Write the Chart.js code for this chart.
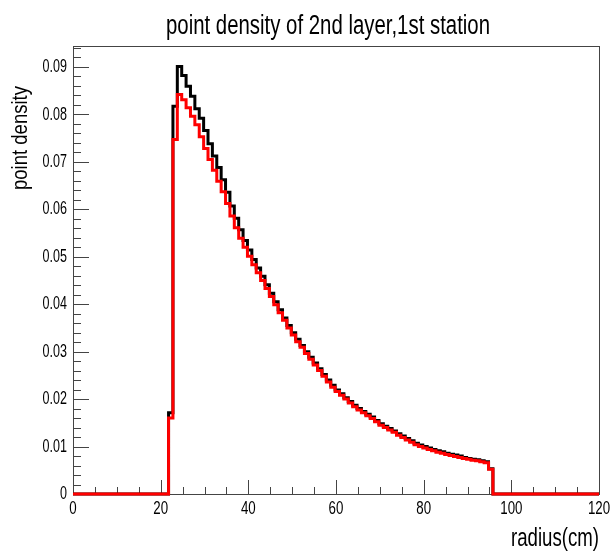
<!DOCTYPE html>
<html><head><meta charset="utf-8">
<script src="https://cdn.jsdelivr.net/npm/chart.js@4/dist/chart.umd.min.js"></script>
<style>html,body{margin:0;padding:0;background:#fff}#wrap{width:610px;height:554px;position:relative}</style>
</head><body><div id="wrap"><canvas id="c" width="610" height="554"></canvas></div>
<script>
const chartTitle = 'point density of 2nd layer,1st station';
const xTitle = 'radius(cm)';
const yTitle = 'point density';
const xRange = [0, 120];
const yRange = [0, 0.0944];
const binStart = 21.8;
const binWidth = 1;
const xTickValues = [0, 20, 40, 60, 80, 100, 120];
const xTickLabels = ['0', '20', '40', '60', '80', '100', '120'];
const xMinorStep = 5;
const yTickValues = [0, 0.01, 0.02, 0.03, 0.04, 0.05, 0.06, 0.07, 0.08, 0.09];
const yTickLabels = ['0', '0.01', '0.02', '0.03', '0.04', '0.05', '0.06', '0.07', '0.08', '0.09'];
const yMinorStep = 0.002;

const blackValues = [
  0.0171, 0.0817, 0.0901, 0.0882, 0.0859, 0.0838, 0.0812, 0.0792, 0.0766, 0.0738,
  0.0712, 0.0688, 0.0662, 0.0636, 0.0607, 0.0581, 0.0557, 0.0534, 0.0514, 0.0494,
  0.0476, 0.0459, 0.0441, 0.0423, 0.0405, 0.0388, 0.0371, 0.0355, 0.0340, 0.0326,
  0.0313, 0.0300, 0.0288, 0.0276, 0.0264, 0.0252, 0.0240, 0.0229, 0.0219, 0.0211,
  0.0203, 0.0195, 0.0187, 0.0180, 0.0174, 0.0168, 0.0162, 0.0155, 0.0148, 0.0143,
  0.0138, 0.0133, 0.0127, 0.0122, 0.0117, 0.0112, 0.0107, 0.0103, 0.0100, 0.0097,
  0.0094, 0.0091, 0.0089, 0.0086, 0.0084, 0.0082, 0.0080, 0.0077, 0.0075, 0.0073,
  0.0072, 0.0070, 0.0068, 0.0053
];
const redValues = [
  0.0160, 0.0747, 0.0842, 0.0831, 0.0814, 0.0796, 0.0778, 0.0753, 0.0728, 0.0705,
  0.0682, 0.0659, 0.0637, 0.0612, 0.0586, 0.0561, 0.0539, 0.0520, 0.0501, 0.0483,
  0.0466, 0.0450, 0.0433, 0.0416, 0.0399, 0.0382, 0.0366, 0.0350, 0.0335, 0.0321,
  0.0309, 0.0296, 0.0284, 0.0272, 0.0260, 0.0248, 0.0236, 0.0225, 0.0216, 0.0208,
  0.0200, 0.0192, 0.0184, 0.0177, 0.0171, 0.0165, 0.0159, 0.0152, 0.0145, 0.0140,
  0.0135, 0.0130, 0.0124, 0.0119, 0.0114, 0.0109, 0.0104, 0.0100, 0.0097, 0.0094,
  0.0091, 0.0088, 0.0086, 0.0083, 0.0081, 0.0079, 0.0077, 0.0075, 0.0073, 0.0071,
  0.0070, 0.0068, 0.0066, 0.0052
];

function histPoints(values) {
  const pts = [{x: xRange[0], y: 0}];
  values.forEach((v, i) => pts.push({x: binStart + i * binWidth, y: v}));
  pts.push({x: binStart + values.length * binWidth, y: 0});
  pts.push({x: xRange[1], y: 0});
  return pts;
}

const FONT = '"Liberation Sans", Arial, Helvetica, sans-serif';
function drawSquashed(ctx, text, x, y, size, sx, align, baseline, rot) {
  ctx.save();
  ctx.font = size + 'px ' + FONT;
  ctx.textAlign = align;
  ctx.textBaseline = baseline;
  ctx.translate(x, y);
  if (rot) ctx.rotate(rot);
  ctx.scale(sx, 1);
  ctx.fillText(text, 0, 0);
  ctx.restore();
}
function fitScale(ctx, text, size, width) {
  ctx.save();
  ctx.font = size + 'px ' + FONT;
  const w = ctx.measureText(text).width;
  ctx.restore();
  return width / w;
}

const rootAxes = {
  id: 'rootAxes',
  beforeDatasetsDraw(chart) {
    const ctx = chart.ctx, a = chart.chartArea;
    const xs = chart.scales.x, ys = chart.scales.y;
    ctx.save();
    ctx.strokeStyle = '#444';
    ctx.lineWidth = 1;
    ctx.strokeRect(Math.round(a.left) + 0.5, Math.round(a.top) + 0.5,
                   Math.round(a.right - a.left), Math.round(a.bottom - a.top));
    ctx.beginPath();
    for (let v = xRange[0]; v <= xRange[1] + 1e-9; v += xMinorStep) {
      const px = Math.round(xs.getPixelForValue(v)) + 0.5;
      const major = xTickValues.some(t => Math.abs(t - v) < 1e-6);
      const len = major ? 14 : 7;
      ctx.moveTo(px, a.bottom); ctx.lineTo(px, a.bottom - len);
    }
    const nY = Math.floor((yRange[1] - yRange[0]) / yMinorStep + 1e-6);
    for (let k = 0; k <= nY; k++) {
      const v = yRange[0] + k * yMinorStep;
      const py = Math.round(ys.getPixelForValue(v)) + 0.5;
      const major = yTickValues.some(t => Math.abs(t - v) < 1e-7);
      const len = major ? 16 : 8;
      ctx.moveTo(a.left, py); ctx.lineTo(a.left + len, py);
    }
    ctx.stroke();
    ctx.restore();
  },
  afterDraw(chart) {
    const ctx = chart.ctx, a = chart.chartArea;
    const xs = chart.scales.x, ys = chart.scales.y;
    ctx.save();
    ctx.fillStyle = '#000';
    xTickValues.forEach((v, i) => {
      drawSquashed(ctx, xTickLabels[i], xs.getPixelForValue(v), a.bottom + 5, 19, 0.7, 'center', 'top');
    });
    yTickValues.forEach((v, i) => {
      drawSquashed(ctx, yTickLabels[i], a.left - 6, ys.getPixelForValue(v), 19, 0.66, 'right', 'middle');
    });
    const ts = fitScale(ctx, chartTitle, 27, 324);
    drawSquashed(ctx, chartTitle, 328, 34, 27, ts, 'center', 'alphabetic');
    const xsF = fitScale(ctx, xTitle, 25, 88);
    drawSquashed(ctx, xTitle, a.right, 546, 25, xsF, 'right', 'alphabetic');
    const ysF = fitScale(ctx, yTitle, 22, 104);
    drawSquashed(ctx, yTitle, 27, 86, 22, ysF, 'right', 'alphabetic', -Math.PI / 2);
    ctx.restore();
  }
};

new Chart(document.getElementById('c'), {
  type: 'line',
  data: {
    datasets: [
      {label: 'red', data: histPoints(redValues), borderColor: '#ff0000', borderWidth: 3,
       stepped: 'before', pointRadius: 0, fill: false, clip: false, borderJoinStyle: 'miter'},
      {label: 'black', data: histPoints(blackValues), borderColor: '#000000', borderWidth: 3,
       stepped: 'before', pointRadius: 0, fill: false, clip: false, borderJoinStyle: 'miter'}
    ]
  },
  options: {
    responsive: false,
    devicePixelRatio: 1,
    animation: false,
    parsing: false,
    layout: {padding: {left: 73, right: 11, top: 46, bottom: 60}},
    plugins: {legend: {display: false}, tooltip: {enabled: false}, title: {display: false}},
    scales: {
      x: {type: 'linear', min: xRange[0], max: xRange[1], display: false},
      y: {type: 'linear', min: yRange[0], max: yRange[1], display: false}
    }
  },
  plugins: [rootAxes]
});
</script>
</body></html>
